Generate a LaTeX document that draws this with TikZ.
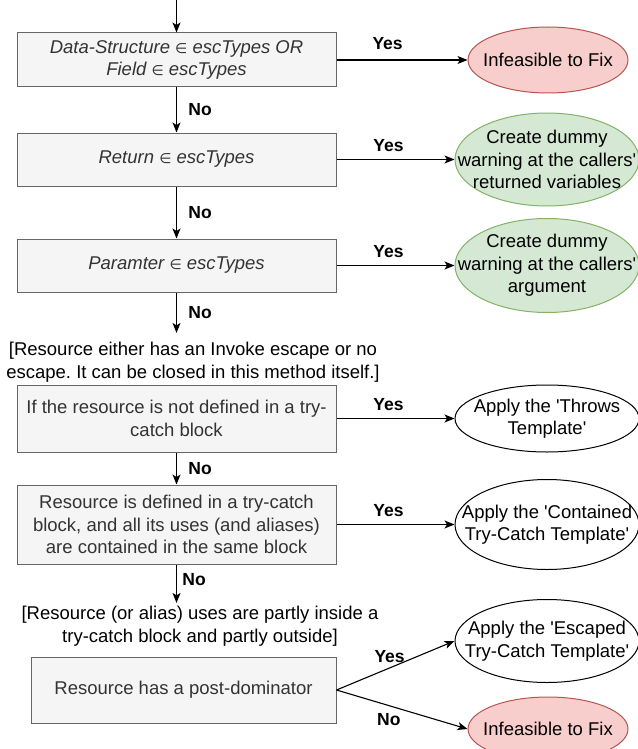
\documentclass[tikz,border=0pt]{standalone}
\usepackage{fontspec}
\setmainfont{Liberation Sans}
\newfontfamily\symfont{DejaVu Sans}
\usepackage{tikz,xcolor}
\usetikzlibrary{positioning,shapes.geometric,arrows.meta}
\frenchspacing

\definecolor{checkfill}{HTML}{F5F5F5}
\definecolor{checkline}{HTML}{666666}
\definecolor{checktext}{HTML}{333333}
\definecolor{badfill}{HTML}{F8CECC}
\definecolor{badline}{HTML}{B85450}
\definecolor{dummyfill}{HTML}{D5E8D4}
\definecolor{dummyline}{HTML}{82B366}

\newcommand{\elemof}{{\symfont\fontsize{14}{14}\selectfont ∈}}
\newcommand{\sq}{\textquotesingle}

\begin{document}
\begin{tikzpicture}[
        x=1pt, y=-1pt,
        every node/.style={font=\fontsize{18.5}{22.5}\selectfont},
        check/.style={rectangle, draw=checkline, fill=checkfill, line width=1pt, text=checktext, align=center, minimum width=319pt, inner sep=2pt},
        ital/.style={font=\fontsize{18.5}{22.5}\selectfont\itshape},
        outcome/.style={ellipse, draw, line width=1pt, align=center, minimum width=184pt, inner xsep=-45pt, inner ysep=-25pt},
        bad/.style={outcome, draw=badline, fill=badfill, minimum width=160pt},
        dummy/.style={outcome, draw=dummyline, fill=dummyfill},
        note/.style={align=center, inner xsep=0pt},
        lbl/.style={font=\fontsize{17.5}{20}\selectfont\bfseries},
        flow/.style={draw, line width=1.1pt, -{Stealth[length=10pt, width=8pt, inset=2.5pt]}}
    ]
        \useasboundingbox (0,0) rectangle (637,749);

        % Define checks
        \coordinate (start) at (176.5,0);
        \node[check, ital, minimum height=54pt] (ds) at (176.5,60) {Data-Structure \elemof{} escTypes OR\\Field \elemof{} escTypes};
        \node[check, ital, minimum height=53pt] (ret) at (176.5,159.5) {Return \elemof{} escTypes};
        \node[check, ital, minimum height=53pt] (par) at (176.5,265.5) {Paramter \elemof{} escTypes};
        \node[note, inner ysep=9pt] (invnote) at (193,362) {[Resource either has an Invoke escape or no\\escape. It can be closed in this method itself.]};
        \node[check, minimum height=67pt] (notry) at (176.5,418.5) {If the resource is not defined in a try-\\catch block};
        \node[check, minimum height=79pt] (cont) at (176.5,524.5) {Resource is defined in a try-catch\\block, and all its uses (and aliases)\\are contained in the same block};
        \node[note, inner ysep=3pt] (partnote) at (200,626) {[Resource (or alias) uses are partly inside a\\try-catch block and partly outside]};
        \node[check, minimum width=305pt, minimum height=66pt] (pd) at (183.5,690) {Resource has a post-dominator};

        % Define outcomes
        \node[bad, minimum height=66pt] (inf1) at (548,60) {Infeasible to Fix};
        \node[dummy, minimum height=93pt] (dret) at (547,159.5) {Create dummy\\warning at the callers\sq\\returned variables};
        \node[dummy, minimum height=94pt] (darg) at (547,265.5) {Create dummy\\warning at the callers\sq\\argument};
        \node[outcome, minimum height=67pt] (throws) at (547,418.5) {Apply the \sq Throws\\Template\sq};
        \node[outcome, minimum height=90pt] (contained) at (547,524.5) {Apply the \sq Contained\\Try-Catch Template\sq};
        \node[outcome, minimum height=83pt] (escaped) at (547,641) {Apply the \sq Escaped\\Try-Catch Template\sq};
        \node[bad, minimum height=64pt] (inf2) at (548,729) {Infeasible to Fix};

        % No branches
        \draw[flow] (start) -- (ds);
        \draw[flow] (ds) -- node[lbl, right=8pt] {No} (ret);
        \draw[flow] (ret) -- node[lbl, right=8pt] {No} (par);
        \draw[flow] (par) -- node[lbl, right=8pt] {No} (par.south |- invnote.north);
        \draw[flow] (notry) -- node[lbl, right=8pt] {No} (cont);
        \draw[flow] (cont) -- node[lbl, pos=0.4, right=2pt] {No} (cont.south |- partnote.north);

        % Yes branches
        \draw[flow] (ds) -- node[lbl, pos=0.39, above=6pt] {Yes} (inf1);
        \draw[flow] (ret) -- node[lbl, pos=0.44, above=4pt] {Yes} (dret);
        \draw[flow] (par) -- node[lbl, pos=0.44, above=4pt] {Yes} (darg);
        \draw[flow] (notry) -- node[lbl, pos=0.44, above=4pt] {Yes} (throws);
        \draw[flow] (cont) -- node[lbl, pos=0.44, above=4pt] {Yes} (contained);

        % post-dominator split
        \draw[flow] (pd.east) -- node[lbl, pos=0.45, above=1pt] {Yes} (escaped.west);
        \draw[flow] (pd.east) -- node[lbl, pos=0.4, below=4pt] {No} (inf2.west);

    \end{tikzpicture}
\end{document}
